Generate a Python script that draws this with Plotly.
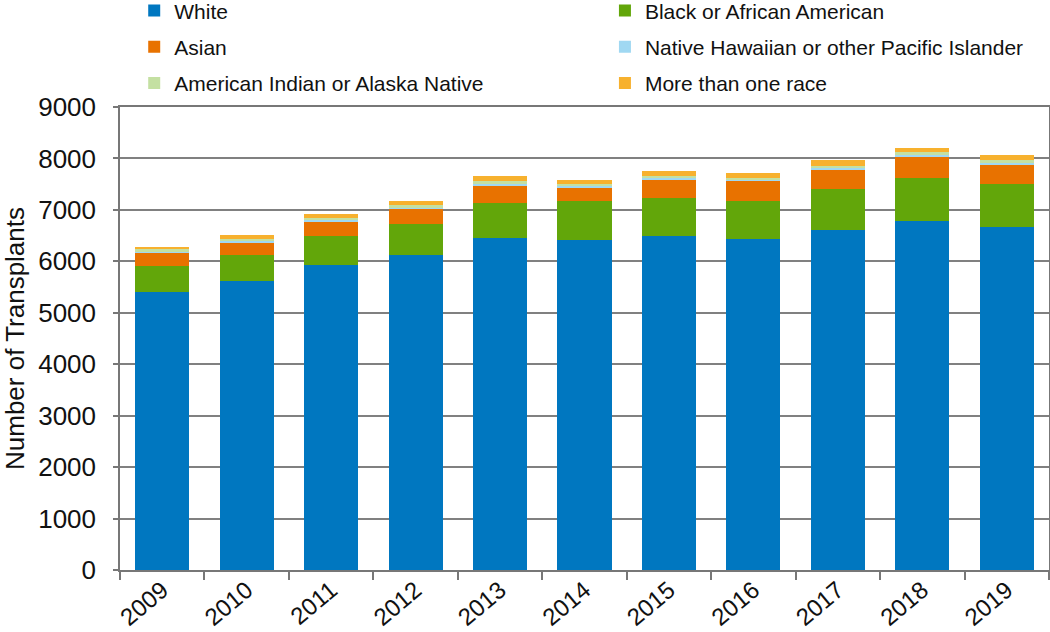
import plotly.graph_objects as go

years = ["2009", "2010", "2011", "2012", "2013", "2014", "2015", "2016", "2017", "2018", "2019"]
white = [5396, 5616, 5934, 6123, 6454, 6415, 6493, 6435, 6610, 6780, 6674]
black = [515, 510, 560, 604, 688, 754, 747, 746, 805, 844, 833]
asian = [255, 240, 287, 292, 339, 273, 358, 384, 378, 409, 382]
nhopi = [20, 22, 22, 22, 25, 20, 22, 20, 25, 25, 28]
aian = [45, 48, 46, 45, 56, 43, 40, 40, 42, 62, 58]
multi = [52, 75, 80, 82, 95, 80, 87, 83, 115, 90, 100]

series_names = ["White", "Black or African American", "Asian",
                "Native Hawaiian or other Pacific Islander",
                "American Indian or Alaska Native", "More than one race"]
series_values = [white, black, asian, nhopi, aian, multi]
series_colors = ["#0077C0", "#62A60A", "#E87200", "#A0D8F2", "#C4E0A2", "#F7B12E"]
legend_column = ["legend", "legend2", "legend", "legend2", "legend", "legend2"]

y_ticks = [0, 1000, 2000, 3000, 4000, 5000, 6000, 7000, 8000, 9000]

fig = go.Figure()
for i, (name, vals, col, lg) in enumerate(zip(series_names, series_values, series_colors, legend_column)):
    fig.add_trace(go.Bar(x=years, y=vals, name=name, legend=lg, legendgroup="g%d" % i,
                         marker=dict(color=col, line=dict(width=0))))

font_family = "Liberation Sans, Arial, sans-serif"
legend_common = dict(orientation="v", xref="paper", yref="paper", y=1.252, yanchor="top",
                     xanchor="left", traceorder="grouped", tracegroupgap=6,
                     font=dict(size=21, color="#111111"), bgcolor="rgba(0,0,0,0)",
                     itemclick=False, itemdoubleclick=False)
fig.update_layout(
    barmode="stack",
    bargap=0.36,
    width=1050, height=632,
    margin=dict(l=120, r=1, t=107, b=62, autoexpand=False),
    paper_bgcolor="white", plot_bgcolor="white",
    font=dict(family=font_family, color="#111111"),
    legend=dict(x=0.0153, **legend_common),
    legend2=dict(x=0.522, **legend_common),
    showlegend=True,
)
fig.update_xaxes(
    type="category", tickangle=-40, tickfont=dict(size=24),
    ticks="outside", ticklen=8, tickwidth=1.5, tickcolor="#777777", tickson="boundaries",
    showline=True, linecolor="#777777", linewidth=1.5, mirror=True,
    showgrid=False, automargin=False, ticklabelstandoff=-5,
)
fig.update_yaxes(
    range=[0, 9000], tickvals=y_ticks, tickfont=dict(size=26),
    ticks="outside", ticklen=5, tickwidth=1.5, tickcolor="#777777",
    showline=True, linecolor="#777777", linewidth=1.5, mirror=True,
    showgrid=True, gridcolor="#808080", gridwidth=1.5,
    ticklabelstandoff=12, automargin=False, zeroline=False,
    title=dict(text="Number of Transplants", font=dict(size=26), standoff=10),
)
fig.write_html("out.html", config={"displayModeBar": False},
               post_script="document.body.style.margin='0';")
